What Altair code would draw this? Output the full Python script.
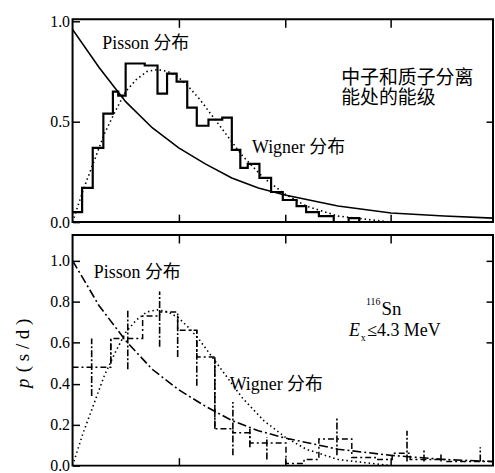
import altair as alt
import pandas as pd

FONT = "Liberation Serif, Noto Sans CJK SC"

# ---------------- data ----------------
# top panel: measured level-spacing histogram (step edges / heights)
top_hist_s = [0.0, 0.09, 0.19, 0.29, 0.38, 0.43, 0.50, 0.68, 0.80, 0.89, 0.98, 1.08, 1.17, 1.28, 1.41,
              1.50, 1.58, 1.65, 1.76, 1.87, 1.98, 2.11, 2.20, 2.32, 2.46, 2.60, 2.70, 3.96]
top_hist_p = [0.05, 0.17, 0.37, 0.54, 0.65, 0.63, 0.79, 0.78, 0.64, 0.74, 0.70, 0.57, 0.48, 0.51, 0.52,
              0.36, 0.27, 0.29, 0.22, 0.15, 0.11, 0.08, 0.05, 0.03, 0.0, 0.02, 0.0, 0.0]

# Pisson curves
pis_s = [0.0, 0.25, 0.5, 0.75, 1.0, 1.25, 1.5, 1.75, 2.0, 2.5, 3.0, 3.5, 3.96]
pis_top_p = [0.96, 0.77, 0.60, 0.47, 0.37, 0.29, 0.22, 0.17, 0.135, 0.08, 0.045, 0.03, 0.02]
pis_bot_p = [1.0, 0.78, 0.61, 0.47, 0.37, 0.29, 0.22, 0.17, 0.135, 0.08, 0.05, 0.03, 0.02]

# Wigner curves
wig_s = [0.0, 0.1, 0.2, 0.3, 0.4, 0.5, 0.6, 0.7, 0.8, 0.9, 1.0, 1.1, 1.2, 1.3, 1.4, 1.5, 1.6, 1.8,
         2.0, 2.2, 2.5, 3.0]
wig_p = [0.0, 0.16, 0.30, 0.44, 0.55, 0.65, 0.71, 0.75, 0.76, 0.75, 0.72, 0.67, 0.61, 0.54, 0.47,
         0.40, 0.33, 0.22, 0.14, 0.08, 0.03, 0.0]

# bottom panel: 116Sn histogram (step edges / heights)
bot_hist_s = [0.0, 0.18, 0.36, 0.51, 0.66, 0.82, 0.99, 1.17, 1.34, 1.51, 1.67, 1.83, 2.01, 2.18,
              2.32, 2.49, 2.63, 2.85, 3.01, 3.18, 3.35, 3.51, 3.68, 3.85, 3.96]
bot_hist_p = [0.48, 0.48, 0.62, 0.62, 0.73, 0.75, 0.66, 0.53, 0.18, 0.16, 0.11, 0.11, 0.01, 0.03,
              0.13, 0.13, 0.04, 0.03, 0.06, 0.03, 0.03, 0.02, 0.02, 0.02, 0.02]

# bottom panel: vertical error bars
err_s = [0.18, 0.36, 0.52, 0.82, 0.99, 1.17, 1.34, 1.51, 1.67, 1.83, 2.49, 3.15, 3.31, 3.47, 3.84]
err_lo = [0.34, 0.50, 0.47, 0.58, 0.53, 0.39, 0.18, 0.05, 0.09, 0.03, 0.05, 0.02, 0.02, 0.02, 0.02]
err_hi = [0.62, 0.62, 0.76, 0.85, 0.73, 0.66, 0.53, 0.31, 0.18, 0.14, 0.23, 0.17, 0.08, 0.06, 0.09]

top_yticks = [0.0, 0.5, 1.0]
bot_yticks = [0.0, 0.2, 0.4, 0.6, 0.8, 1.0]
x_ticks = [1, 2, 3]

# ---------------- helpers ----------------
W = 423
H_TOP = 204
H_BOT = 232
xs = alt.Scale(domain=[0, 3.96], nice=False, zero=False)
ys_top = alt.Scale(domain=[0, 1.01], nice=False)
ys_bot = alt.Scale(domain=[0, 1.125], nice=False)


def tick_axis(orient, values, size=8, labels=False, fmt=None):
    kw = dict(orient=orient, values=values, tickSize=size, offset=-size, domain=False, grid=False,
              labels=labels, tickColor="black", tickWidth=1.5, title=None)
    if labels:
        kw.update(format=fmt, labelFont="Liberation Serif", labelFontSize=16, labelColor="black",
                  labelPadding=3)
    return alt.Axis(**kw)


def line_layer(s, p, ys, dash=None, width=1.5, interp="linear", xaxis=None, yaxis=None):
    df = pd.DataFrame({"s": s, "p": p})
    mk = dict(color="black", strokeWidth=width, interpolate=interp, clip=True)
    if dash:
        mk["strokeDash"] = dash
    return alt.Chart(df).mark_line(**mk).encode(
        x=alt.X("s:Q", scale=xs, axis=xaxis),
        y=alt.Y("p:Q", scale=ys, axis=yaxis),
    )


def txt(s, p, label, ys, size=18, align="left", italic=False):
    df = pd.DataFrame({"s": [s], "p": [p], "t": [label]})
    return alt.Chart(df).mark_text(
        align=align, baseline="middle", fontSize=size, font=FONT,
        fontStyle="italic" if italic else "normal", color="black"
    ).encode(
        x=alt.X("s:Q", scale=xs, axis=None),
        y=alt.Y("p:Q", scale=ys, axis=None),
        text="t:N",
    )


# ---------------- top panel ----------------
top = alt.layer(
    line_layer(top_hist_s, top_hist_p, ys_top, width=2.2, interp="step-after",
               xaxis=tick_axis("bottom", x_ticks),
               yaxis=tick_axis("left", top_yticks, size=7, labels=True, fmt=".1f")),
    line_layer(pis_s, pis_top_p, ys_top, width=1.6,
               xaxis=tick_axis("top", x_ticks),
               yaxis=tick_axis("right", [0.5], size=7)),
    line_layer(wig_s, wig_p, ys_top, dash=[1.5, 3], width=1.6),
    txt(0.28, 0.886, "Pisson 分布", ys_top),
    txt(2.53, 0.718, "中子和质子分离", ys_top, size=19),
    txt(2.53, 0.619, "能处的能级", ys_top, size=19),
    txt(1.69, 0.371, "Wigner 分布", ys_top),
).resolve_axis(x="independent", y="independent").properties(width=W, height=H_TOP)

# ---------------- bottom panel ----------------
err_df = pd.DataFrame({"s": err_s, "lo": err_lo, "hi": err_hi})
err = alt.Chart(err_df).mark_rule(color="black", strokeWidth=1.6, strokeDash=[7, 2, 2, 2]).encode(
    x=alt.X("s:Q", scale=xs, axis=None),
    y=alt.Y("lo:Q", scale=ys_bot, axis=None),
    y2="hi:Q",
)

ytitle_p = alt.Chart(pd.DataFrame({"t": ["p"]})).mark_text(
    align="left", baseline="middle", angle=270, fontSize=19, font="Liberation Serif",
    fontStyle="italic", color="black"
).encode(x=alt.value(-50), y=alt.value(154), text="t:N")
ytitle_rest = alt.Chart(pd.DataFrame({"t": ["( s / d )"]})).mark_text(
    align="left", baseline="middle", angle=270, fontSize=19, font="Liberation Serif", color="black"
).encode(x=alt.value(-50), y=alt.value(138), text="t:N")

bottom = alt.layer(
    line_layer(bot_hist_s, bot_hist_p, ys_bot, dash=[6, 3, 2, 3], width=1.5, interp="step-after",
               xaxis=tick_axis("bottom", x_ticks),
               yaxis=tick_axis("left", bot_yticks, size=7, labels=True, fmt=".1f")),
    line_layer(pis_s, pis_bot_p, ys_bot, dash=[9, 3, 2, 3], width=1.6,
               xaxis=tick_axis("top", x_ticks),
               yaxis=tick_axis("right", [0.6, 0.8, 1.0], size=7)),
    line_layer(wig_s, wig_p, ys_bot, dash=[1.5, 3], width=1.6),
    err,
    txt(0.20, 0.941, "Pisson 分布", ys_bot),
    txt(1.48, 0.391, "Wigner 分布", ys_bot),
    txt(2.90, 0.800, "116", ys_bot, size=10, align="right"),
    txt(2.91, 0.762, "Sn", ys_bot, size=19),
    txt(2.603, 0.655, "E", ys_bot, size=18, italic=True),
    txt(2.715, 0.622, "x", ys_bot, size=10),
    txt(2.775, 0.655, "≤4.3 MeV", ys_bot, size=18),
    ytitle_p,
    ytitle_rest,
).resolve_axis(x="independent", y="independent").properties(width=W, height=H_BOT)

chart = alt.vconcat(top, bottom, spacing=13, bounds="flush").properties(
    padding={"left": 13, "top": 11, "right": 0, "bottom": 0},
    background="white",
).configure_view(stroke="black", strokeWidth=2)

chart.save("out.html", embed_options={"renderer": "svg", "actions": False})
